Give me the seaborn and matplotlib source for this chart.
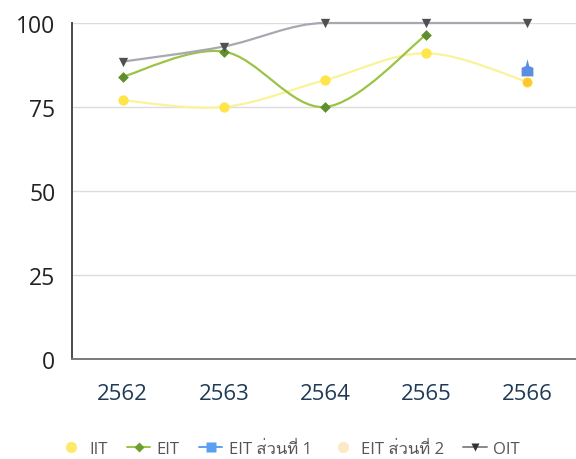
import numpy as np
import pandas as pd
import matplotlib
matplotlib.use("Agg")
import matplotlib.pyplot as plt
from matplotlib.path import Path
from matplotlib.patches import PathPatch
from matplotlib.lines import Line2D
from matplotlib import font_manager as fm
from matplotlib.ft2font import FT2Font
import seaborn as sns

years = ["2562", "2563", "2564", "2565", "2566"]
iit = [77, 75, 83, 91, 82.5]
eit = [84, 91.5, 75, 96.5, np.nan]
eit1 = [np.nan, np.nan, np.nan, np.nan, 86]
eit2 = [np.nan, np.nan, np.nan, np.nan, 82.5]
oit = [88.5, 93, 100, 100, 100]
series_names = ["IIT", "EIT", "EIT ส่วนที่ 1", "EIT ส่วนที่ 2", "OIT"]
y_ticks = [0, 25, 50, 75, 100]

# find a font with Thai glyphs
thai_font = None
for f in fm.fontManager.ttflist:
    try:
        cm = FT2Font(f.fname).get_charmap()
        if 0x0E2A in cm and 0x0E48 in cm:
            thai_font = f.name
            if "Sans" in f.name or "Loma" in f.name:
                break
    except Exception:
        pass

sns.set_theme(style="white")
fam = ["Open Sans"] + ([thai_font] if thai_font else []) + ["DejaVu Sans"]
plt.rcParams["font.family"] = fam

df = pd.DataFrame({"year": years, "IIT": iit, "EIT": eit, "EIT1": eit1,
                   "EIT2": eit2, "OIT": oit})

fig = plt.figure(figsize=(5.76, 4.60), dpi=100)
ax = fig.add_axes([72 / 576, 1 - 360 / 460, 506 / 576, 336 / 460])

house = Path([(-1, -1), (1, -1), (1, 0.45), (0.3, 0.75), (0, 1.9),
              (-0.3, 0.75), (-1, 0.45), (-1, -1)],
             [Path.MOVETO] + [Path.LINETO] * 6 + [Path.CLOSEPOLY])

styles = {
    "IIT": dict(line="#f9f39a", mk="o", mc="#ffe54a", ms=55, lw=1.6),
    "EIT": dict(line="#9cc444", mk="D", mc="#5e8f2c", ms=30, lw=1.6),
    "EIT1": dict(line="#5b8ee0", mk=house, mc="#5b8ee0", ms=260, lw=1.6),
    "EIT2": dict(line="#fde3b8", mk="o", mc="#ffc533", ms=40, lw=1.6),
    "OIT": dict(line="#a8a8b0", mk="v", mc="#505050", ms=45, lw=1.6),
}


def smooth_patch(xs, ys, color, lw):
    pts = [(x, y) for x, y in zip(xs, ys) if not np.isnan(y)]
    if len(pts) < 2:
        return None
    P = np.array(pts, dtype=float)
    verts = [P[0]]
    codes = [Path.MOVETO]
    n = len(P)
    for i in range(n - 1):
        p0 = P[i - 1] if i > 0 else P[i]
        p1 = P[i]
        p2 = P[i + 1]
        p3 = P[i + 2] if i + 2 < n else P[i + 1]
        c1 = p1 + (p2 - p0) / 6.0
        c2 = p2 - (p3 - p1) / 6.0
        if p1[1] == p2[1]:
            c1[1] = p1[1]
            c2[1] = p2[1]
        if i + 2 < n and p2[1] == p3[1]:
            c2[1] = p2[1]
        if i > 0 and p0[1] == p1[1]:
            c1[1] = p1[1]
        verts += [c1, c2, p2]
        codes += [Path.CURVE4] * 3
    return PathPatch(Path(verts, codes), facecolor="none", edgecolor=color,
                     lw=lw, zorder=2, capstyle="round", clip_on=False)


xidx = np.arange(len(years))
for key in ["IIT", "EIT", "OIT"]:
    st = styles[key]
    p = smooth_patch(xidx, df[key].values, st["line"], st["lw"])
    if p is not None:
        ax.add_patch(p)

for key in ["IIT", "EIT2", "EIT", "OIT", "EIT1"]:
    st = styles[key]
    sub = df.dropna(subset=[key])
    sns.scatterplot(data=sub, x="year", y=key, ax=ax, marker=st["mk"],
                    color=st["mc"], s=st["ms"], linewidth=0, zorder=4,
                    legend=False, clip_on=False)

ax.set_xlim(-0.5, len(years) - 0.5)
ax.set_ylim(0, 100)
ax.set_yticks(y_ticks)
ax.set_xticks(xidx)
ax.set_xticklabels(years)
ax.set_xlabel("")
ax.set_ylabel("")
ax.grid(axis="y", color="#dcdcdc", lw=1.0)
ax.set_axisbelow(True)
for s in ["top", "right"]:
    ax.spines[s].set_visible(False)
ax.spines["left"].set_color("#4a4a4a")
ax.spines["left"].set_linewidth(1.4)
ax.spines["bottom"].set_color("#7a7a7a")
ax.spines["bottom"].set_linewidth(1.4)
ax.tick_params(axis="y", length=0, pad=12, labelsize=16.5, labelcolor="#222222")
ax.tick_params(axis="x", length=0, pad=17, labelsize=16, labelcolor="#1e3a56")

handles = [
    Line2D([], [], color="none", marker="o", markerfacecolor="#ffe96a",
           markeredgecolor="none", markersize=8),
    Line2D([], [], color="#9cc444", lw=1.4, marker="D",
           markerfacecolor="#6c9f30", markeredgecolor="none", markersize=5),
    Line2D([], [], color="#5ba0f0", lw=1.4, marker="s",
           markerfacecolor="#5ba0f0", markeredgecolor="none", markersize=7),
    Line2D([], [], color="none", marker="o", markerfacecolor="#fde7c4",
           markeredgecolor="none", markersize=8),
    Line2D([], [], color="#888888", lw=1.4, marker="v",
           markerfacecolor="#333333", markeredgecolor="none", markersize=6),
]
fig.legend(handles, series_names, loc="center", bbox_to_anchor=(0.503, 1 - 450 / 460),
           ncol=5, frameon=False, fontsize=12, labelcolor="#555555",
           handlelength=1.4, handletextpad=0.4, columnspacing=1.15)

fig.savefig("out.png", dpi=100)
